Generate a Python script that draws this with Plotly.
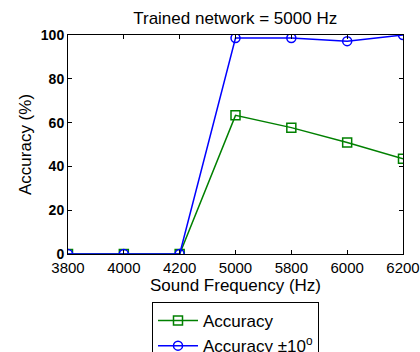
import plotly.graph_objects as go

categories = ["3800", "4000", "4200", "5000", "5800", "6000", "6200"]
accuracy = [0, 0, 0, 63.3, 57.7, 50.9, 43.5]
accuracy_10 = [0, 0, 0, 98.6, 98.6, 97.2, 100]
y_ticks = [0, 20, 40, 60, 80, 100]

idx = list(range(len(categories)))
font_family = "Liberation Sans, Arial, sans-serif"

fig = go.Figure()
fig.add_trace(go.Scatter(
    x=idx, y=accuracy, mode="lines+markers", name="Accuracy",
    line=dict(color="#008000", width=1.5),
    marker=dict(symbol="square-open", size=9, color="#008000", line=dict(width=1.5)),
))
fig.add_trace(go.Scatter(
    x=idx, y=accuracy_10, mode="lines+markers", name="Accuracy ±10<sup>o</sup>",
    line=dict(color="#0000ff", width=1.5),
    marker=dict(symbol="circle-open", size=9, color="#0000ff", line=dict(width=1.5)),
))

axis_common = dict(
    showline=True, linecolor="black", linewidth=1, mirror="ticks",
    ticks="inside", ticklen=4, tickcolor="black", showgrid=False, zeroline=False,
    automargin=False,
)
fig.update_xaxes(
    range=[0, len(categories) - 1], tickmode="array", tickvals=idx, ticktext=categories,
    tickfont=dict(family=font_family, size=15, color="black"),
    ticklabelstandoff=0,
    title=dict(text="Sound Frequency (Hz)", font=dict(family=font_family, size=17, color="black"), standoff=0),
    **axis_common,
)
fig.update_yaxes(
    range=[0, 100], tickmode="array", tickvals=y_ticks,
    tickfont=dict(family=font_family, size=14, color="black", weight="bold"),
    title=dict(text="Accuracy (%)", font=dict(family=font_family, size=17, color="black"), standoff=4),
    **axis_common,
)
fig.update_layout(
    width=420, height=352,
    margin=dict(l=68, r=17, t=35, b=98, autoexpand=False),
    paper_bgcolor="white", plot_bgcolor="white",
    title=dict(text="Trained network = 5000 Hz", x=0.56, xanchor="center",
               yref="container", y=1 - 18 / 352, yanchor="middle",
               font=dict(family=font_family, size=17, color="black")),
    legend=dict(x=0.5, xanchor="center", xref="paper",
                yref="container", y=1 - 302 / 352, yanchor="top", bgcolor="white",
                bordercolor="black", borderwidth=1,
                font=dict(family=font_family, size=17, color="black"),
                tracegroupgap=0, itemwidth=40),
    showlegend=True,
)
fig.write_html("out.html")
